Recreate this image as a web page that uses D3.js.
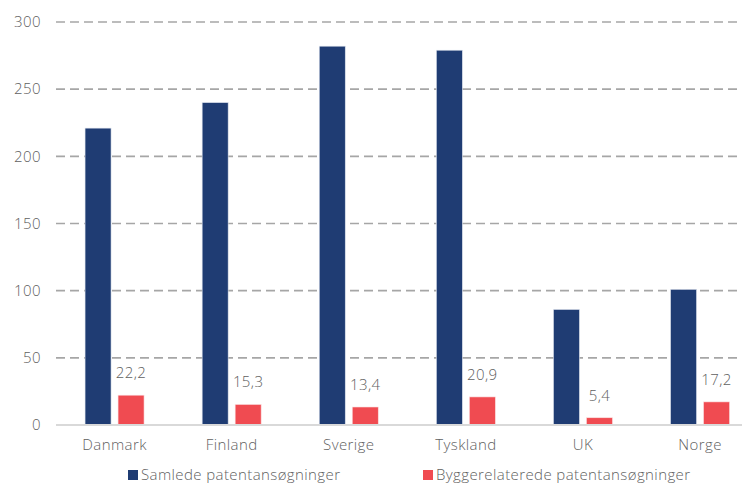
<!DOCTYPE html>
<html>
<head>
<meta charset="utf-8">
<script src="https://cdn.jsdelivr.net/npm/d3@7/dist/d3.min.js"></script>
<style>
  html, body { margin: 0; padding: 0; background: #fff; overflow: hidden; }
  svg { display: block; font-family: "Open Sans", "Noto Sans", sans-serif; }
  svg text { letter-spacing: 0.4px; font-weight: 300; }
</style>
</head>
<body>
<svg id="chart" width="742" height="484"></svg>
<script>
// Patent applications per country: total vs. construction-related
const countries = ["Danmark", "Finland", "Sverige", "Tyskland", "UK", "Norge"];
const totalApps = [221, 240, 282, 279, 86, 101];
const buildingApps = [22.2, 15.3, 13.4, 20.9, 5.4, 17.2];
const yTicks = [0, 50, 100, 150, 200, 250, 300];
const seriesNames = ["Samlede patentansøgninger", "Byggerelaterede patentansøgninger"];
const seriesColors = ["#1f3c73", "#f04b51"];

const svg = d3.select("#chart");
const textColor = "#5f5f5f";

const plot = { left: 56, right: 758.6, top: 22, bottom: 425 };

const x = d3.scaleBand().domain(countries).range([plot.left, plot.right]).paddingInner(0).paddingOuter(0);
const y = d3.scaleLinear().domain([0, 300]).range([plot.bottom, plot.top]);

const barW = 26, barGap = 7;
const groupOffset = (x.bandwidth() - (2 * barW + barGap)) / 2;

// Dashed horizontal gridlines (skip the zero line, drawn as the baseline)
svg.append("g")
  .selectAll("line")
  .data(yTicks.filter(d => d > 0))
  .join("line")
  .attr("x1", plot.left).attr("x2", plot.right)
  .attr("y1", d => y(d)).attr("y2", d => y(d))
  .attr("stroke", "#a6a6a6")
  .attr("stroke-width", 1.6)
  .attr("stroke-dasharray", "9,5");

// Y axis labels
const yAxis = d3.axisLeft(y).tickValues(yTicks).tickSize(0).tickPadding(15).tickFormat(d3.format("d"));
const gy = svg.append("g").attr("transform", `translate(${plot.left},0)`).call(yAxis);
gy.select(".domain").remove();
gy.selectAll("text")
  .attr("fill", textColor)
  .style("font-size", "15px")
  .style("font-family", "\"Open Sans\", sans-serif");

// Bars: total applications
svg.append("g")
  .selectAll("rect")
  .data(countries)
  .join("rect")
  .attr("x", (d) => x(d) + groupOffset)
  .attr("y", (d, i) => y(totalApps[i]))
  .attr("width", barW)
  .attr("height", (d, i) => y(0) - y(totalApps[i]))
  .attr("fill", seriesColors[0])
  .attr("stroke", "#dfe4ee")
  .attr("stroke-width", 0.6);

// Bars: construction-related applications
svg.append("g")
  .selectAll("rect")
  .data(countries)
  .join("rect")
  .attr("x", (d) => x(d) + groupOffset + barW + barGap)
  .attr("y", (d, i) => y(buildingApps[i]))
  .attr("width", barW)
  .attr("height", (d, i) => y(0) - y(buildingApps[i]))
  .attr("fill", seriesColors[1])
  .attr("stroke", "#fbe0e1")
  .attr("stroke-width", 0.6);

// Value labels above the red bars
const fmt = d3.formatLocale({ decimal: ",", thousands: ".", grouping: [3], currency: ["", " kr."] }).format(".1f");
svg.append("g")
  .selectAll("text")
  .data(countries)
  .join("text")
  .attr("x", (d) => x(d) + groupOffset + barW + barGap + barW / 2)
  .attr("y", (d, i) => y(buildingApps[i]) - 17)
  .attr("text-anchor", "middle")
  .attr("fill", textColor)
  .style("font-size", "15px")
  .text((d, i) => fmt(buildingApps[i]));

// Baseline
svg.append("line")
  .attr("x1", plot.left).attr("x2", plot.right)
  .attr("y1", y(0)).attr("y2", y(0))
  .attr("stroke", "#d9d9d9")
  .attr("stroke-width", 2);

// Category labels
const xAxis = d3.axisBottom(x).tickSize(0).tickPadding(14);
const gx = svg.append("g").attr("transform", `translate(0,${plot.bottom})`).call(xAxis);
gx.select(".domain").remove();
gx.selectAll("text")
  .attr("fill", textColor)
  .style("font-size", "15px")
  .style("font-family", "\"Open Sans\", sans-serif");

// Legend
const legendX = [128, 423];
const legend = svg.append("g")
  .selectAll("g")
  .data(seriesNames)
  .join("g")
  .attr("transform", (d, i) => `translate(${legendX[i]},470)`);
legend.append("rect")
  .attr("width", 10).attr("height", 10)
  .attr("fill", (d, i) => seriesColors[i]);
legend.append("text")
  .attr("x", 13).attr("y", 10)
  .attr("fill", textColor)
  .style("font-size", "15px")
  .text(d => d);
</script>
</body>
</html>
